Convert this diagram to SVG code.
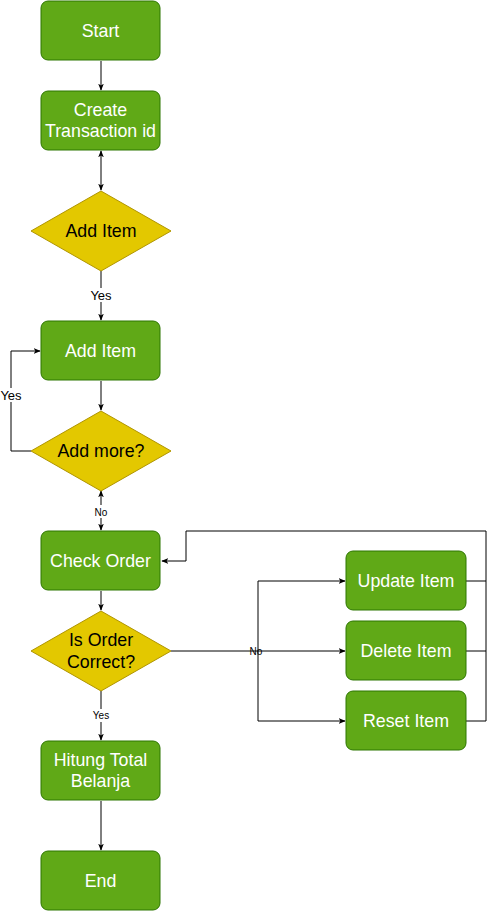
<svg xmlns="http://www.w3.org/2000/svg" width="496" height="912" viewBox="0 0 496 912">
<defs>
<marker id="arr" viewBox="0 0 10 10" refX="9" refY="5" markerWidth="7" markerHeight="7" markerUnits="userSpaceOnUse" orient="auto-start-reverse">
<path d="M0,1 L10,5 L0,9 L2.5,5 Z" fill="#000"/>
</marker>
<style>
.p{fill:#60a917;stroke:#2d7600;stroke-width:1}
.d{fill:#e3c800;stroke:#b09500;stroke-width:1}
.t{font-family:"Liberation Sans",Arial,sans-serif;font-size:17.8px;text-anchor:middle;dominant-baseline:central}
.w{fill:#ffffff}
.k{fill:#000000}
.e{fill:none;stroke:#000;stroke-width:1}
.l{font-family:"Liberation Sans",Arial,sans-serif;text-anchor:middle;dominant-baseline:central;fill:#000}
</style>
</defs>
<rect width="496" height="912" fill="#ffffff"/>
<g id="connectors">
<path class="e" d="M101,61 V90" marker-end="url(#arr)"/>
<path class="e" d="M101,151 V190" marker-start="url(#arr)" marker-end="url(#arr)"/>
<path class="e" d="M101,271 V320" marker-end="url(#arr)"/>
<rect x="89" y="288" width="24" height="14" fill="#fff"/>
<text class="l" x="101" y="295" font-size="13">Yes</text>
<path class="e" d="M101,381 V410" marker-end="url(#arr)"/>
<path class="e" d="M31,451 H11 V351 H40" marker-end="url(#arr)"/>
<rect x="0" y="388" width="23" height="14" fill="#fff"/>
<text class="l" x="11" y="395" font-size="13">Yes</text>
<path class="e" d="M101,491 V530" marker-start="url(#arr)" marker-end="url(#arr)"/>
<rect x="93" y="505" width="16" height="13" fill="#fff"/>
<text class="l" x="101" y="512" font-size="10">No</text>
<path class="e" d="M101,591 V610" marker-end="url(#arr)"/>
<path class="e" d="M171,651 H345" marker-end="url(#arr)"/>
<path class="e" d="M258,651 V581 H345" marker-end="url(#arr)"/>
<path class="e" d="M258,651 V721 H345" marker-end="url(#arr)"/>
<text class="l" x="256" y="651" font-size="10">No</text>
<path class="e" d="M466,581 H486 M466,651 H486 M466,721 H486 V531 H186 V561 H162" marker-end="url(#arr)"/>
<path class="e" d="M101,691 V740" marker-end="url(#arr)"/>
<rect x="91" y="709" width="20" height="13" fill="#fff"/>
<text class="l" x="101" y="715" font-size="10">Yes</text>
<path class="e" d="M101,801 V850" marker-end="url(#arr)"/>
</g>
<g id="start"><rect class="p" x="41" y="1" width="119" height="59" rx="7"/><text class="t w" x="100.5" y="31">Start</text></g>
<g id="create"><rect class="p" x="41" y="91" width="119" height="59" rx="7"/><text class="t w" x="100.5" y="110">Create</text><text class="t w" x="100.5" y="131">Transaction id</text></g>
<g id="addItemDecision"><polygon class="d" points="101,191 171,231 101,271 31,231"/><text class="t k" x="101" y="231">Add Item</text></g>
<g id="addItem"><rect class="p" x="41" y="321" width="119" height="59" rx="7"/><text class="t w" x="100.5" y="351">Add Item</text></g>
<g id="addMore"><polygon class="d" points="101,411 171,451 101,491 31,451"/><text class="t k" x="101" y="451">Add more?</text></g>
<g id="checkOrder"><rect class="p" x="41" y="531" width="119" height="59" rx="7"/><text class="t w" x="100.5" y="561">Check Order</text></g>
<g id="isOrderCorrect"><polygon class="d" points="101,611 171,651 101,691 31,651"/><text class="t k" x="101" y="640">Is Order</text><text class="t k" x="101" y="662">Correct?</text></g>
<g id="updateItem"><rect class="p" x="346" y="551" width="120" height="59" rx="7"/><text class="t w" x="406" y="581">Update Item</text></g>
<g id="deleteItem"><rect class="p" x="346" y="621" width="120" height="59" rx="7"/><text class="t w" x="406" y="651">Delete Item</text></g>
<g id="resetItem"><rect class="p" x="346" y="691" width="120" height="59" rx="7"/><text class="t w" x="406" y="721">Reset Item</text></g>
<g id="hitung"><rect class="p" x="41" y="741" width="119" height="59" rx="7"/><text class="t w" x="100.5" y="760">Hitung Total</text><text class="t w" x="100.5" y="781">Belanja</text></g>
<g id="end"><rect class="p" x="41" y="851" width="119" height="59" rx="7"/><text class="t w" x="100.5" y="881">End</text></g>
</svg>
